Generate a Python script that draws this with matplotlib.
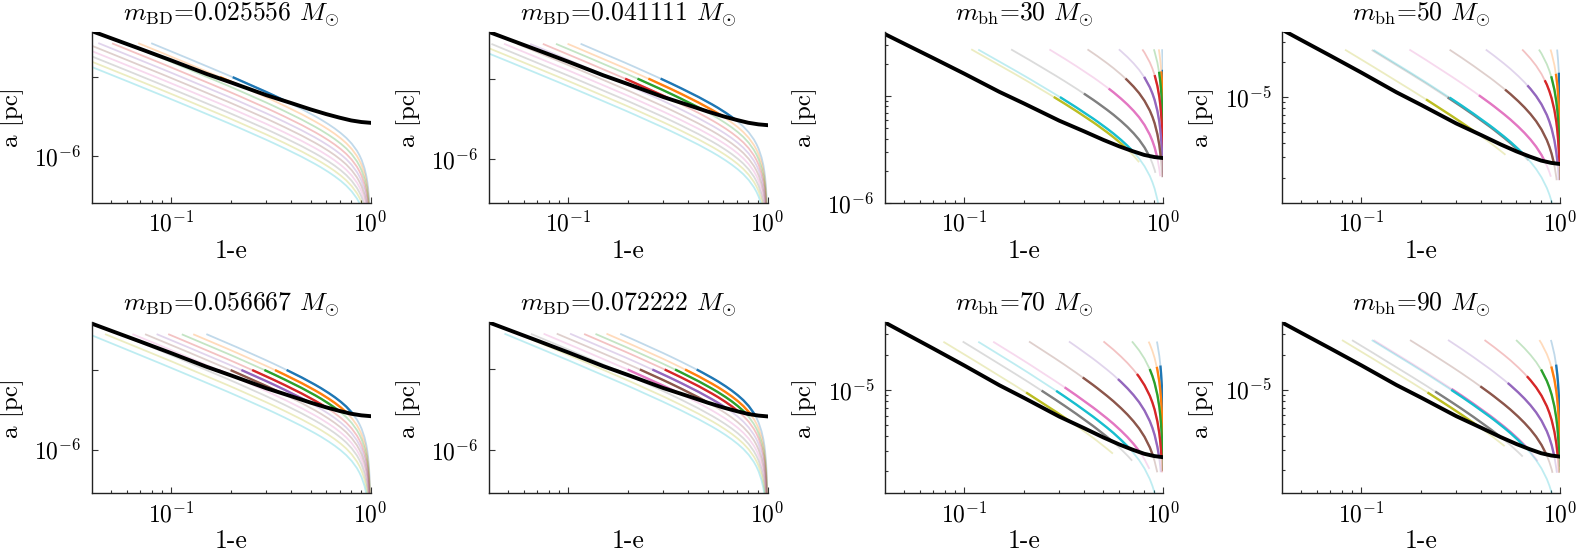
import numpy as np
import matplotlib
matplotlib.use("Agg")
import matplotlib.pyplot as plt
from matplotlib.ticker import FixedLocator, FuncFormatter, NullLocator, NullFormatter

plt.rcParams["mathtext.fontset"] = "cm"
plt.rcParams["font.family"] = ["cmr10", "DejaVu Serif"]
plt.rcParams["axes.formatter.use_mathtext"] = True

# ---------------- data ----------------
titles = [r"$m_{\rm BD}$=0.025556 $M_{\odot}$", r"$m_{\rm BD}$=0.041111 $M_{\odot}$",
          r"$m_{\rm bh}$=30 $M_{\odot}$", r"$m_{\rm bh}$=50 $M_{\odot}$",
          r"$m_{\rm BD}$=0.056667 $M_{\odot}$", r"$m_{\rm BD}$=0.072222 $M_{\odot}$",
          r"$m_{\rm bh}$=70 $M_{\odot}$", r"$m_{\rm bh}$=90 $M_{\odot}$"]

# common shape of the evolution tracks: log10(a) relative to its value at 1-e = 0.1
track_x = [0.02, 0.03, 0.04, 0.05, 0.07, 0.1, 0.15, 0.2, 0.25, 0.3, 0.35, 0.4, 0.45, 0.5,
           0.55, 0.6, 0.65, 0.7, 0.75, 0.8, 0.85, 0.875, 0.9, 0.93, 0.95, 0.96, 0.97, 0.98,
           0.985, 0.99, 0.995, 0.998, 0.999, 0.9995, 0.9999]
track_shape = [0.712, 0.534, 0.408, 0.309, 0.160, 0.0, -0.185, -0.318, -0.425, -0.514,
               -0.592, -0.663, -0.727, -0.788, -0.846, -0.904, -0.962, -1.022, -1.086,
               -1.159, -1.247, -1.301, -1.365, -1.466, -1.559, -1.621, -1.700, -1.811,
               -1.890, -2.001, -2.191, -2.443, -2.633, -2.823, -3.264]

# black curve (log10 a [pc])
black_x = [0.04, 0.05, 0.07, 0.1, 0.15, 0.2, 0.3, 0.4, 0.5, 0.6, 0.7, 0.8, 0.9, 1.0]
black_loga = [-4.42, -4.51, -4.645, -4.79, -4.96, -5.07, -5.23, -5.33, -5.41, -5.47,
              -5.515, -5.55, -5.57, -5.58]

# panels: BD1, BD2, bh30, bh50, BD3, BD4, bh70, bh90
ylim_lo = [-6.595, -6.549, -6.0, -5.916, -6.55, -6.532, -5.892, -5.898]
ylim_hi = [-4.43, -4.42, -4.40, -4.44, -4.405, -4.42, -4.42, -4.42]
start_loga = [-4.57, -4.566, -4.562, -4.591, -4.55, -4.558, -4.583, -4.571]

# log10 a of each track at 1-e = 0.1 (tab10 order: blue ... cyan)
track_level = [
    [-4.676, -4.743, -4.81, -4.879, -4.946, -5.013, -5.08, -5.147, -5.214, -5.281],
    [-4.502, -4.571, -4.632, -4.700, -4.766, -4.832, -4.898, -4.964, -5.03, -5.096],
    [-2.672, -3.013, -3.21, -3.428, -3.661, -3.879, -4.105, -4.315, -4.525, -4.491],
    [-2.955, -3.249, -3.462, -3.638, -3.90, -4.117, -4.337, -4.54, -4.677, -4.530],
    [-4.366, -4.437, -4.498, -4.567, -4.627, -4.688, -4.752, -4.816, -4.892, -4.975],
    [-4.285, -4.357, -4.418, -4.479, -4.549, -4.618, -4.687, -4.754, -4.82, -4.887],
    [-3.128, -3.351, -3.567, -3.795, -4.013, -4.239, -4.433, -4.592, -4.694, -4.512],
    [-3.219, -3.437, -3.669, -3.888, -4.104, -4.314, -4.507, -4.621, -4.672, -4.517],
]
# log10 a where the highlighted (solid) part of each track begins
solid_top = [
    [-5.0] * 10,
    [-5.0] * 10,
    [-4.75, -4.766, -4.772, -4.803, -4.819, -4.834, -4.928, -4.975, -5.007, -5.007],
    [-4.79, -4.80, -4.822, -4.856, -4.90, -4.936, -4.985, -5.005, -5.02, -5.005],
    [-5.0] * 10,
    [-5.0] * 10,
    [-4.79, -4.80, -4.82, -4.863, -4.906, -4.892, -4.978, -5.006, -5.021, -5.006],
    [-4.783, -4.80, -4.826, -4.884, -4.942, -4.971, -4.994, -5.015, -5.023, -5.0],
]
# log10 a where each faint track stops
faint_end = [
    [-9.0] * 10,
    [-9.0] * 10,
    [-5.72, -5.74, -5.76, -5.76, -5.76, -5.76, -5.75, -5.72, -5.62, -9.0],
    [-5.72, -5.72, -5.72, -5.72, -5.72, -5.72, -5.69, -5.55, -5.50, -9.0],
    [-9.0] * 10,
    [-9.0] * 10,
    [-5.70, -5.70, -5.70, -5.71, -5.71, -5.71, -5.68, -5.61, -5.55, -9.0],
    [-5.67, -5.70, -5.72, -5.72, -5.72, -5.72, -5.62, -5.58, -5.49, -9.0],
]
ylab_shown = [[-6], [-6], [-6], [-5], [-6], [-6], [-5], [-5]]
y_minor_on = [False, False, True, True, False, False, True, True]
xlab_shown = [[-1, 0], [-1, 0], [-1, 0], [-1, 0], [-1, 0], [0], [-1, 0], [-1, 0]]

colors = ["#1f77b4", "#ff7f0e", "#2ca02c", "#d62728", "#9467bd",
          "#8c564b", "#e377c2", "#7f7f7f", "#bcbd22", "#17becf"]

# ---------------- drawing ----------------
fig = plt.figure(figsize=(15.78, 5.58), dpi=100)
lefts = [0.0583, 0.3099, 0.5608, 0.8124]
bottoms = [0.6362, 0.1156]
W, H = 0.1765, 0.3065

lx = np.log10(track_x)
rs = np.array(track_shape)
tt = np.linspace(0, 1, 40, endpoint=False)
dlx = np.concatenate([lx[i] + tt * (lx[i + 1] - lx[i]) for i in range(len(lx) - 1)] + [lx[-1:]])
drs = np.concatenate([rs[i] + tt * (rs[i + 1] - rs[i]) for i in range(len(rs) - 1)] + [rs[-1:]])
xd = 10 ** dlx
black_d = np.interp(dlx, np.log10(black_x), black_loga)

x_minor = [0.05, 0.06, 0.07, 0.08, 0.09, 0.2, 0.3, 0.4, 0.5, 0.6, 0.7, 0.8, 0.9]
y_minor = [2e-6, 3e-6, 4e-6, 5e-6, 6e-6, 7e-6, 8e-6, 9e-6, 2e-5, 3e-5, 4e-5]


def make_fmt(shown):
    def f(v, pos):
        e = int(round(np.log10(v)))
        return r"$10^{%d}$" % e if e in shown else ""
    return f


for p in range(8):
    ax = fig.add_axes([lefts[p % 4], bottoms[p // 4], W, H])
    ax.set_xscale("log")
    ax.set_yscale("log")
    for k in range(10):
        y = track_level[p][k] + drs
        faint = np.where((y <= start_loga[p]) & (y >= faint_end[p][k]), y, np.nan)
        ax.plot(xd, 10 ** faint, color=colors[k], alpha=0.28, lw=1.3, solid_capstyle="butt")
    for k in range(10):
        y = track_level[p][k] + drs
        solid = np.where((y <= solid_top[p][k]) & (y >= black_d), y, np.nan)
        ax.plot(xd, 10 ** solid, color=colors[k], lw=1.7, solid_capstyle="butt")
    ax.plot(black_x, 10 ** np.array(black_loga), color="k", lw=2.8)

    ax.set_xlim(0.04, 1.0)
    ax.set_ylim(10 ** ylim_lo[p], 10 ** ylim_hi[p])

    ax.xaxis.set_major_locator(FixedLocator([0.1, 1.0]))
    ax.xaxis.set_major_formatter(FuncFormatter(make_fmt(xlab_shown[p])))
    ax.xaxis.set_minor_locator(FixedLocator(x_minor))
    ax.xaxis.set_minor_formatter(NullFormatter())
    ax.yaxis.set_major_locator(FixedLocator([1e-6, 1e-5]))
    ax.yaxis.set_major_formatter(FuncFormatter(make_fmt(ylab_shown[p])))
    if y_minor_on[p]:
        ax.yaxis.set_minor_locator(FixedLocator(y_minor))
    else:
        ax.yaxis.set_minor_locator(NullLocator())
    ax.yaxis.set_minor_formatter(NullFormatter())

    ax.tick_params(which="both", direction="in", labelsize=17, color="#333333", width=0.8)
    ax.tick_params(axis="x", which="major", length=4, pad=6)
    ax.tick_params(axis="y", which="major", length=4, pad=7.5)
    ax.tick_params(which="minor", length=2.5)
    for s in ("top", "right"):
        ax.spines[s].set_visible(False)
    for s in ("left", "bottom"):
        ax.spines[s].set_color("#222222")
        ax.spines[s].set_linewidth(1.0)

    ax.set_title(titles[p], fontsize=18.5, pad=8)
    ax.set_xlabel("1-e", fontsize=18.5)
    ax.xaxis.set_label_coords(0.5, -0.21)
    ax.set_ylabel("a [pc]", fontsize=18)
    ax.yaxis.set_label_coords(-0.243, 0.5)

fig.savefig("out.png", dpi=100)
